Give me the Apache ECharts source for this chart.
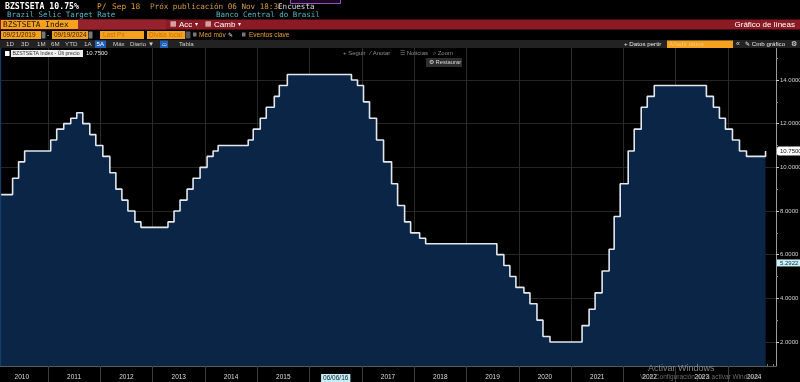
<!DOCTYPE html>
<html><head><meta charset="utf-8">
<script src="https://cdn.jsdelivr.net/npm/echarts@6/dist/echarts.min.js"></script>
<style>html,body{margin:0;padding:0;background:#000;overflow:hidden}#c{width:800px;height:382px}</style>
</head><body><div id="c"></div>
<script>
// ---- data (Selic target changes: date the new rate took effect, rate %) ----
const changeDates = [
'2010-01-01','2010-04-29','2010-06-10','2010-07-22','2011-01-20','2011-03-03','2011-04-21','2011-06-09','2011-07-21',
'2011-09-01','2011-10-20','2011-12-01','2012-01-19','2012-03-08','2012-04-19','2012-05-31','2012-07-12','2012-08-30',
'2012-10-11','2013-04-18','2013-05-30','2013-07-11','2013-08-29','2013-10-10','2013-11-28','2014-01-16','2014-02-27',
'2014-04-03','2014-10-30','2014-12-04','2015-01-22','2015-03-05','2015-04-30','2015-06-04','2015-07-30','2016-10-20',
'2016-12-01','2017-01-12','2017-02-23','2017-04-13','2017-06-01','2017-07-27','2017-09-07','2017-10-26','2017-12-07',
'2018-02-08','2018-03-22','2019-08-01','2019-09-19','2019-10-31','2019-12-12','2020-02-06','2020-03-19','2020-05-07',
'2020-06-18','2020-08-06','2021-03-18','2021-05-06','2021-06-17','2021-08-05','2021-09-23','2021-10-28','2021-12-09',
'2022-02-03','2022-03-17','2022-05-05','2022-06-16','2022-08-04','2023-08-03','2023-09-21','2023-11-02','2023-12-14',
'2024-02-01','2024-03-21','2024-05-09','2024-09-19','2024-09-20'];
const selicValues = [
8.75,9.50,10.25,10.75,11.25,11.75,12.00,12.25,12.50,
12.00,11.50,11.00,10.50,9.75,9.00,8.50,8.00,7.50,
7.25,7.50,8.00,8.50,9.00,9.50,10.00,10.50,10.75,
11.00,11.25,11.75,12.25,12.75,13.25,13.75,14.25,14.00,
13.75,13.00,12.25,11.25,10.25,9.25,8.25,7.50,7.00,
6.75,6.50,6.00,5.50,5.00,4.50,4.25,3.75,3.00,
2.25,2.00,2.75,3.50,4.25,5.25,6.25,7.75,9.25,
10.75,11.75,12.75,13.25,13.75,13.25,12.75,12.25,11.75,
11.25,10.75,10.50,10.75,10.75];
const yearLabels = ['2010','2011','2012','2013','2014','2015','2016','2017','2018','2019','2020','2021','2022','2023','2024'];
const yTickValues = [2,4,6,8,10,12,14];
const yMinorValues = [3,5,7,9,11,13,15];
const lastPrice = 10.75;
const cursorValueText = '5.2922';
const cursorDateText = '06/06/16';
const cursorDateYear = '2016';

// ---- layout constants ----
const ts = s => Date.parse(s + 'T00:00:00Z');
const axisStart = ts('2010-01-31'), axisEnd = ts('2024-12-01');
const yMin = 0.90, yMax = 15.466;
const cursorLabelAt = 5.62;

const seriesData = changeDates.map((d,i)=>[ts(d), selicValues[i]]);
const yearStarts = yearLabels.slice(1).map(y=>ts(y+'-01-01'));
const yearMids = yearLabels.map(y=>ts(y+'-07-02'));
const quarterTicks = [];
yearLabels.forEach(y=>{ ['02-15','04-01','05-15','07-01','08-15','10-01','11-15'].forEach(m=>{ const t=ts(y+'-'+m); if(t>axisStart && t<axisEnd) quarterTicks.push(t); }); });

const chart = echarts.init(document.getElementById('c'), null, {renderer:'canvas'});
const mono = 'DejaVu Sans Mono', sans = 'Liberation Sans';
const ORANGE = '#f3a11e';
function T(x,y,text,fill,size,opts){ return {type:'text', x:x, y:y, z:100, style:{text:text, fill:fill, font: (opts&&opts.bold?'bold ':'')+size+'px "'+((opts&&opts.font)||sans)+'"', textVerticalAlign:'middle', textAlign:(opts&&opts.align)||'left'}}; }
function R(x,y,w,h,fill,stroke){ return {type:'rect', z:99, shape:{x:x,y:y,width:w,height:h}, style:{fill:fill, stroke:stroke||null, lineWidth:1}}; }

const graphic = [
  T(5,7,'BZSTSETA 10.75%','#ffffff',8.2,{font:mono,bold:true}),
  T(97,7,'P/','#e39a2a',7.8,{font:mono}),
  T(112,7,'Sep 18','#e39a2a',7.8,{font:mono}),
  T(150,7,'Próx publicación 06 Nov 18:3C','#d79a45',7.6,{font:mono}),
  T(278,7,'Encuesta','#d8d8d8',7.6,{font:mono}),
  R(290.5,-4,50,7.5,'#1a0a22','#9b4fc4'),
  T(7,15.5,'Brazil Selic Target Rate','#4fb8c6',7.5,{font:mono}),
  T(216,15.5,'Banco Central do Brasil','#4fb8c6',7.5,{font:mono}),
  R(0,19.5,800,10,'#8b1a25'),
  R(78,19.5,88,10,'#95222d'),
  R(1,20,77,9,ORANGE),
  T(3,24.7,'BZSTSETA Index','#1a1208',7.8,{font:mono}),
  T(170,24.7,'▦','#f0d0d0',6.5),
  T(179,24.7,'Acc','#ffffff',8),
  T(195,24.7,'▾','#ffffff',6),
  T(205,24.7,'▦','#f0d0d0',6.5),
  T(214,24.7,'Camb','#ffffff',8),
  T(238,24.7,'▾','#ffffff',6),
  T(795,24.7,'Gráfico de líneas','#ffffff',8,{align:'right'}),
  R(1,31,40,8,ORANGE), T(3,35.2,'09/21/2019','#3a2000',6.5),
  R(41.5,31.5,4,7,'#777'),
  T(47,35.2,'-','#dddddd',6.5),
  R(52,31,36,8,ORANGE), T(54,35.2,'09/19/2024','#3a2000',6.5),
  R(88.5,31.5,4,7,'#777'),
  R(100,31,44,8,ORANGE), T(103,35.2,'Last Px','#c9720a',6.5),
  R(147,31,38,8,ORANGE), T(149,35.2,'Divisa local','#c9720a',6.5),
  R(185.5,31.5,5,7,'#555'),
  R(193,32.5,3.5,4,'#777'), T(199,35.2,'Med móv','#e6a030',6.5), T(228,35.2,'✎','#dddddd',6),
  R(242,32.5,3.5,4,'#777'), T(249,35.2,'Eventos clave','#e6a030',6.5),
  R(0,40,800,8,'#222222'),
  T(6,44.2,'1D','#cfcfcf',6.2), T(21,44.2,'3D','#cfcfcf',6.2), T(37,44.2,'1M','#cfcfcf',6.2),
  T(51,44.2,'6M','#cfcfcf',6.2), T(65,44.2,'YTD','#cfcfcf',6.2), T(84,44.2,'1A','#cfcfcf',6.2),
  R(95,40.5,11,7.5,'#1f5fb6'), T(96.5,44.2,'5A','#ffffff',6.2),
  T(113,44.2,'Máx','#cfcfcf',6.2), T(130,44.2,'Diario ▼','#cfcfcf',6.2),
  R(160,40.5,8,7.5,'#1f5fb6'), T(161.5,44.2,'▭','#ffffff',5),
  T(179,44.2,'Tabla','#cfcfcf',6.2),
  T(624,44.2,'+ Datos pertir','#e8e8e8',6.2),
  R(667,40.5,66,7.5,ORANGE), T(669,44.2,'Añadir datos','#f7c77a',6.2),
  T(736,44.2,'«','#dddddd',7), T(745,44.2,'✎ Cmb gráfico','#e8e8e8',6.2), T(791,44.2,'⚙','#e8e8e8',7),
  R(5,51,4.5,5,'#ffffff'),
  R(11,50,72,7,'#eeeeee'), T(12.5,53.7,'BZSTSETA Index - Últ precio','#333333',5.2),
  T(86,53.7,'10.7500','#e6e6e6',6),
  T(343,53.3,'+ Seguir','#8c8c8c',6), T(370,53.3,'⁄ Anotar','#8c8c8c',6),
  T(400,53.3,'☰ Noticias','#8c8c8c',6), T(433,53.3,'⌕ Zoom','#8c8c8c',6),
  R(426,58,36,9,'#2e2e2e'), T(429,62.6,'⚙ Restaurar','#d8d8d8',5.8),
  R(0,48,1.2,318,'#143a66'),
  {type:'text', x:648, y:368.5, z:120, style:{text:'Activar Windows', fill:'rgba(170,170,170,0.75)', font:'9px "Liberation Sans"', textVerticalAlign:'middle'}},
  {type:'text', x:640, y:377.5, z:120, style:{text:'Ve a Configuración para activar Windows.', fill:'rgba(150,150,150,0.7)', font:'6.5px "Liberation Sans"', textVerticalAlign:'middle'}}
];

const option = {
  backgroundColor:'#000000',
  animation:false,
  grid:{left:0, right:24, top:48, bottom:16, containLabel:false, outerBoundsMode:'none'},
  xAxis:[{
    type:'value', min:axisStart, max:axisEnd, position:'bottom', scale:true,
    axisLine:{show:true, onZero:false, lineStyle:{color:'#5a5a5a', width:1}},
    axisTick:{show:true, customValues:yearStarts, length:17, inside:false, lineStyle:{color:'#3c3c3c'}},
    axisLabel:{customValues:yearMids, color:'#dcdcdc', fontSize:6.5, fontFamily:sans, margin:8, hideOverlap:false, showMinLabel:true, showMaxLabel:true,
      formatter:function(v){ const y = String(new Date(v).getUTCFullYear()); const lab = yearLabels[yearLabels.indexOf(y)]; return lab===cursorDateYear ? '{hl|'+cursorDateText+'}' : lab; },
      rich:{hl:{backgroundColor:'#c4eef4', color:'#0a2030', fontSize:6.5, padding:[1,2,0,2]}}},
    splitLine:{show:true, lineStyle:{color:'#2a2a2a', width:1}}
  },{
    type:'value', min:axisStart, max:axisEnd, position:'bottom', scale:true,
    axisLine:{show:false, onZero:false},
    axisTick:{show:true, customValues:quarterTicks, length:2, inside:true, lineStyle:{color:'#6f7f96'}},
    axisLabel:{show:false}, splitLine:{show:false}
  }],
  yAxis:[{
    type:'value', position:'right', min:yMin, max:yMax,
    axisLine:{show:true, onZero:false, lineStyle:{color:'#9a9a9a', width:1}},
    axisTick:{show:true, customValues:yTickValues, length:3, lineStyle:{color:'#c8c8c8'}},
    axisLabel:{customValues:yTickValues, formatter:v=>Number(v).toFixed(4), color:'#d0d0d0', fontSize:6, fontFamily:sans, margin:4},
    splitLine:{show:true, lineStyle:{color:'#252525', width:1}}
  },{
    type:'value', position:'right', min:yMin, max:yMax,
    axisLine:{show:false, onZero:false},
    axisTick:{show:true, customValues:yMinorValues, length:2, lineStyle:{color:'#8a8a8a'}},
    axisLabel:{show:false}, splitLine:{show:false}
  },{
    type:'value', position:'right', min:yMin, max:yMax,
    axisLine:{show:false, onZero:false}, axisTick:{show:false}, splitLine:{show:false},
    axisLabel:{customValues:[lastPrice, cursorLabelAt], margin:1, fontSize:6, fontFamily:sans,
      formatter:function(v){ return Math.abs(v-lastPrice)<0.001 ? '{w|'+lastPrice.toFixed(4)+'}' : '{c|'+cursorValueText+'}'; },
      rich:{
        w:{backgroundColor:'#ffffff', color:'#111111', fontSize:6, padding:[2,3,1,3], borderRadius:2},
        c:{backgroundColor:'#c8f0f6', color:'#0d2a3a', fontSize:6, padding:[1,3,0,3]}
      }}
  }],
  series:[{
    type:'line', xAxisIndex:0, yAxisIndex:0, step:'end', data:seriesData, symbol:'none', clip:true,
    lineStyle:{color:'#e2e8ee', width:1.6},
    areaStyle:{color:'#0b2547', opacity:1, origin:'start'},
    z:2
  }],
  graphic:graphic
};
chart.setOption(option);
</script></body></html>
